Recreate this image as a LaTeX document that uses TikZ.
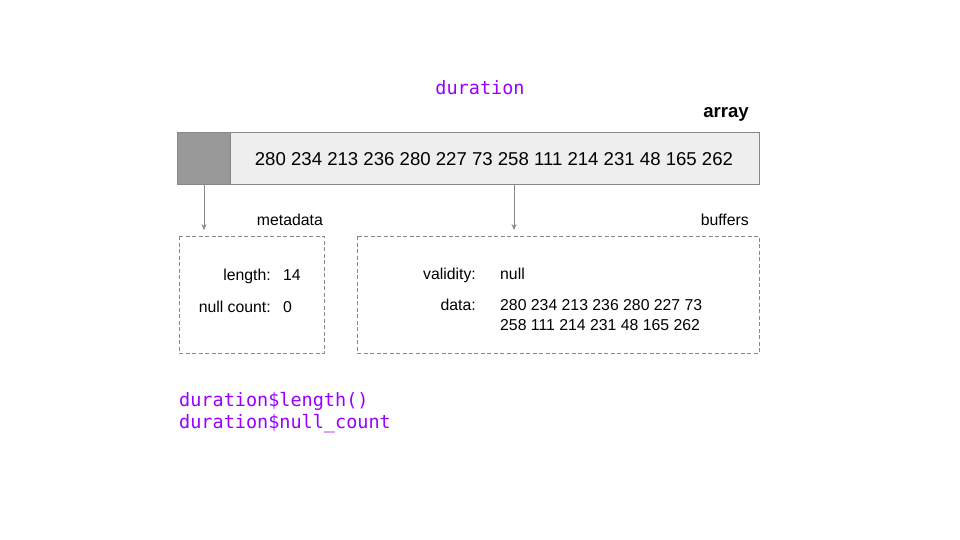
\documentclass[tikz,border=0pt]{standalone}
\usepackage{fontspec}
\setmainfont{Liberation Sans}
\setmonofont{DejaVu Sans Mono}
\usetikzlibrary{positioning,arrows.meta}
\definecolor{codepurple}{HTML}{9900FF}
\definecolor{bordergray}{HTML}{888888}
\definecolor{cellgray}{HTML}{999999}
\definecolor{barlight}{HTML}{EEEEEE}
\newcommand{\labelsize}{\fontsize{15.8}{19}\selectfont}
\newcommand{\valuesize}{\fontsize{18.6}{22}\selectfont}
\newcommand{\codesize}{\fontsize{18.5}{22}\selectfont}

\tikzset{
  code/.style={font=\codesize\ttfamily, text=codepurple, inner sep=0pt},
  lbl/.style={font=\labelsize, inner sep=0pt},
  partbox/.style={draw=bordergray, dash pattern=on 4pt off 2.5pt, line width=0.9pt},
  pointer/.style={draw=bordergray, line width=0.9pt, -{Stealth[length=6pt,width=5pt]}}
}

\begin{document}
\begin{tikzpicture}[x=1pt, y=-1pt]
    \useasboundingbox[fill=white] (0,0) rectangle (960,540);

    % variable name and array label
    \node[code, anchor=base] (varname) at (480,94.5) {duration};
    \node[lbl, font=\valuesize\bfseries, anchor=base east] (arraylbl) at (749,118) {array};

    % the array bar: dark cell, then the values
    \draw[draw=bordergray, fill=barlight, line width=0.9pt] (177,132) rectangle (759,184);
    \draw[draw=bordergray, fill=cellgray, line width=0.9pt] (177,132) rectangle (230,184);
    \node[inner sep=0pt, font=\valuesize, anchor=base] (values) at (494,166)
        {280 234 213 236 280 227 73 258 111 214 231 48 165 262};

    % pointers down to the two parts
    \coordinate (metatop) at (204,184);
    \coordinate (metaend) at (204,230);
    \coordinate (buftop) at (514,184);
    \coordinate (bufend) at (514,230);
    \draw[pointer] (metatop) -- (metaend);
    \draw[pointer] (buftop) -- (bufend);

    % metadata
    \node[lbl, anchor=base east] (metalbl) at (323,225) {metadata};
    \draw[partbox] (179,236) rectangle (324,353);
    \node[lbl, anchor=base east] (lenkey) at (271,280.5) {length:};
    \node[lbl, anchor=base west] (lenval) at (283,280.5) {14};
    \node[lbl, anchor=base east] (nullkey) at (271,312) {null count:};
    \node[lbl, anchor=base west] (nullval) at (283,312) {0};

    % buffers
    \node[lbl, anchor=base east] (buflbl) at (749,225) {buffers};
    \draw[partbox] (357,236) rectangle (759,353);
    \node[lbl, anchor=base east] (validkey) at (476,279) {validity:};
    \node[lbl, anchor=base west] (validval) at (500,279) {null};
    \node[lbl, anchor=base east] (datakey) at (476,310) {data:};
    \node[lbl, anchor=base west] (dataone) at (500,310) {280 234 213 236 280 227 73};
    \node[lbl, anchor=base west] (datatwo) at (500,330) {258 111 214 231 48 165 262};

    % accessor calls
    \node[code, anchor=base west] (lencall) at (179,406) {duration\$length()};
    \node[code, anchor=base west] (nullcall) at (179,428) {duration\$null\_count};

\end{tikzpicture}
\end{document}
